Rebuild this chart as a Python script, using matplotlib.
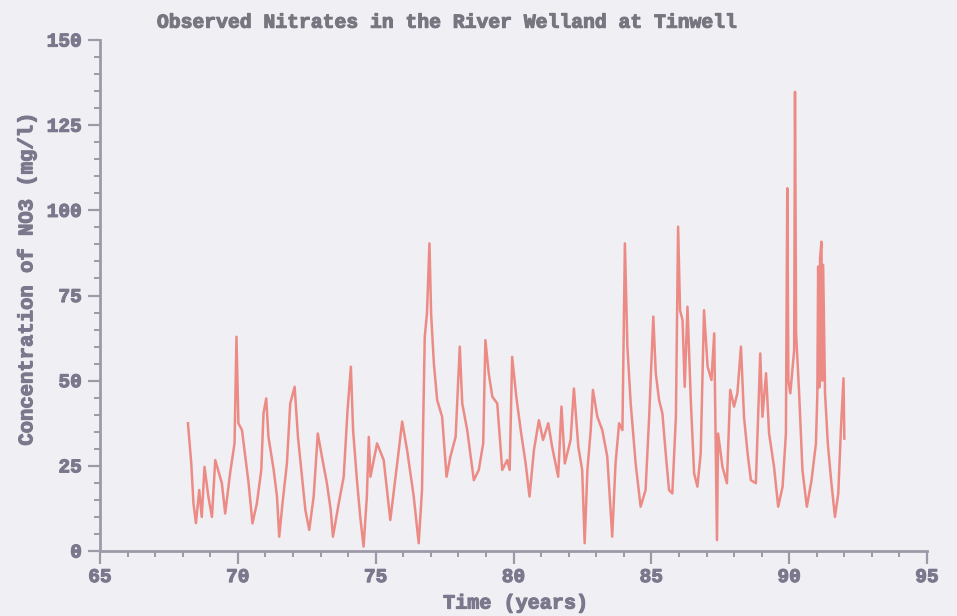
import numpy as np
import matplotlib.pyplot as plt
import matplotlib.patheffects as pe

# observed NO3 concentration (mg/l) against time in years (19xx)
years = [
    68.19, 68.31, 68.39, 68.48, 68.60, 68.69, 68.79, 68.93, 69.06, 69.18,
    69.32, 69.42, 69.54, 69.72, 69.88, 69.95, 70.02, 70.15, 70.27, 70.39,
    70.53, 70.69, 70.85, 70.93, 71.03, 71.11, 71.30, 71.42, 71.50, 71.62,
    71.78, 71.90, 72.06, 72.18, 72.30, 72.45, 72.59, 72.75, 72.90, 73.05,
    73.23, 73.37, 73.45, 73.66, 73.84, 73.98, 74.10, 74.18, 74.32, 74.44,
    74.56, 74.68, 74.75, 74.81, 75.05, 75.29, 75.53, 75.78, 75.96, 76.14,
    76.38, 76.56, 76.68, 76.78, 76.86, 76.95, 77.01, 77.11, 77.23, 77.41,
    77.57, 77.71, 77.90, 78.05, 78.14, 78.32, 78.56, 78.74, 78.90, 78.98,
    79.10, 79.23, 79.41, 79.59, 79.77, 79.86, 79.95, 80.10, 80.26, 80.44,
    80.58, 80.74, 80.92, 81.07, 81.26, 81.40, 81.62, 81.74, 81.86, 82.07,
    82.19, 82.35, 82.49, 82.58, 82.68, 82.80, 82.88, 83.04, 83.22, 83.40,
    83.58, 83.70, 83.83, 83.95, 84.04, 84.13, 84.25, 84.43, 84.61, 84.79,
    84.92, 85.07, 85.16, 85.28, 85.40, 85.52, 85.64, 85.76, 85.89, 85.97,
    86.04, 86.13, 86.21, 86.31, 86.43, 86.55, 86.67, 86.79, 86.91, 87.04,
    87.18, 87.28, 87.38, 87.42, 87.58, 87.74, 87.86, 88.00, 88.12, 88.25,
    88.36, 88.49, 88.61, 88.79, 88.95, 89.03, 89.16, 89.27, 89.45, 89.60,
    89.76, 89.88, 89.93, 89.97, 90.04, 90.18, 90.21, 90.25, 90.36, 90.48,
    90.64, 90.81, 90.97, 91.02, 91.05, 91.09, 91.12, 91.17, 91.20, 91.23,
    91.30, 91.40, 91.52, 91.66, 91.78, 91.88, 91.97, 92.00,
]
nitrate = [
    37.5, 25.8, 14.0, 8.2, 17.9, 10.0, 24.7, 16.0, 10.0, 26.7,
    22.8, 19.9, 11.0, 22.9, 31.6, 62.9, 37.5, 35.5, 27.7, 19.9,
    8.1, 14.0, 23.8, 40.4, 44.8, 33.5, 23.8, 16.0, 4.2, 14.0,
    25.7, 43.3, 48.2, 33.5, 23.8, 12.0, 6.2, 16.0, 34.5, 27.7,
    19.9, 12.0, 4.2, 14.0, 21.8, 41.4, 54.1, 35.5, 20.8, 10.0,
    1.3, 16.0, 33.5, 21.8, 31.6, 26.7, 9.1, 25.7, 38.0, 29.6,
    16.0, 2.3, 17.9, 62.9, 69.8, 90.3, 69.8, 55.1, 44.3, 39.4,
    21.8, 27.7, 33.5, 60.0, 43.3, 35.5, 20.8, 23.8, 31.6, 61.9,
    52.2, 45.3, 43.3, 23.8, 26.7, 23.8, 57.0, 45.3, 35.5, 25.7,
    16.0, 29.6, 38.4, 32.6, 37.5, 30.6, 21.8, 42.4, 25.7, 32.6,
    47.7, 30.6, 23.8, 2.3, 23.8, 35.5, 47.3, 39.4, 35.5, 27.7,
    4.2, 25.7, 37.5, 35.5, 90.3, 60.0, 43.3, 25.7, 13.0, 17.9,
    39.4, 68.8, 52.2, 44.3, 40.4, 28.7, 17.9, 16.9, 39.4, 95.2,
    70.7, 67.8, 48.2, 71.7, 44.3, 22.8, 18.9, 28.7, 70.7, 54.1,
    50.2, 63.9, 3.2, 34.5, 24.7, 19.9, 47.3, 42.4, 46.3, 60.0,
    39.4, 28.7, 20.8, 19.9, 58.0, 39.4, 52.2, 34.5, 24.7, 13.0,
    18.9, 34.5, 106.5, 50.0, 46.3, 59.0, 134.8, 63.9, 46.3, 23.8,
    13.0, 20.8, 31.6, 46.0, 83.5, 48.0, 86.0, 90.8, 50.0, 84.0,
    46.3, 31.6, 20.8, 10.0, 16.9, 36.5, 50.7, 33.0,
]

x_ticks = [65, 70, 75, 80, 85, 90, 95]
y_ticks = [0, 25, 50, 75, 100, 125, 150]

txt_col = '#7b778c'
axis_col = '#9d99a8'
bg_col = '#f0eff3'
font = ['Liberation Mono', 'DejaVu Sans Mono']
# thicken the thin mono strokes a little
heavy = [pe.withStroke(linewidth=0.8, foreground=txt_col)]

fig = plt.figure(figsize=(9.57, 6.16), dpi=100, facecolor=bg_col)
ax = fig.add_axes([0.1045, 0.1055, 0.8642, 0.8295])
ax.set_facecolor(bg_col)

ax.plot(years, nitrate, color='#ec7a72', linewidth=1.8, alpha=0.85)

ax.set_xlim(65, 95)
ax.set_ylim(0, 150)
ax.set_xticks(x_ticks)
ax.set_yticks(y_ticks)
ax.set_xticks(np.arange(65, 96, 1), minor=True)
ax.set_yticks(np.arange(0, 151, 5), minor=True)

for side in ['top', 'right']:
    ax.spines[side].set_visible(False)
for side in ['left', 'bottom']:
    ax.spines[side].set_color(axis_col)
    ax.spines[side].set_linewidth(2)

ax.tick_params(which='major', length=9, width=1.6, color=axis_col, pad=4)
ax.tick_params(which='minor', length=4.5, width=1.4, color=axis_col)
for lab in ax.get_xticklabels() + ax.get_yticklabels():
    lab.set_family(font)
    lab.set_weight('bold')
    lab.set_fontsize(14)
    lab.set_color(txt_col)
    lab.set_path_effects(heavy)

fig.text(0.164, 0.964, 'Observed Nitrates in the River Welland at Tinwell',
         ha='left', va='center', family=font, weight='bold', fontsize=14.2,
         color='#77757f',
         path_effects=[pe.withStroke(linewidth=0.8, foreground='#77757f')])
fig.text(0.539, 0.021, 'Time (years)', ha='center', va='center',
         family=font, weight='bold', fontsize=14.5, color=txt_col,
         path_effects=heavy)
fig.text(0.028, 0.545, 'Concentration of NO3 (mg/l)', ha='center',
         va='center', rotation=90, family=font, weight='bold',
         fontsize=14.8, color=txt_col, path_effects=heavy)

fig.savefig('out.png', dpi=100, facecolor=bg_col)
